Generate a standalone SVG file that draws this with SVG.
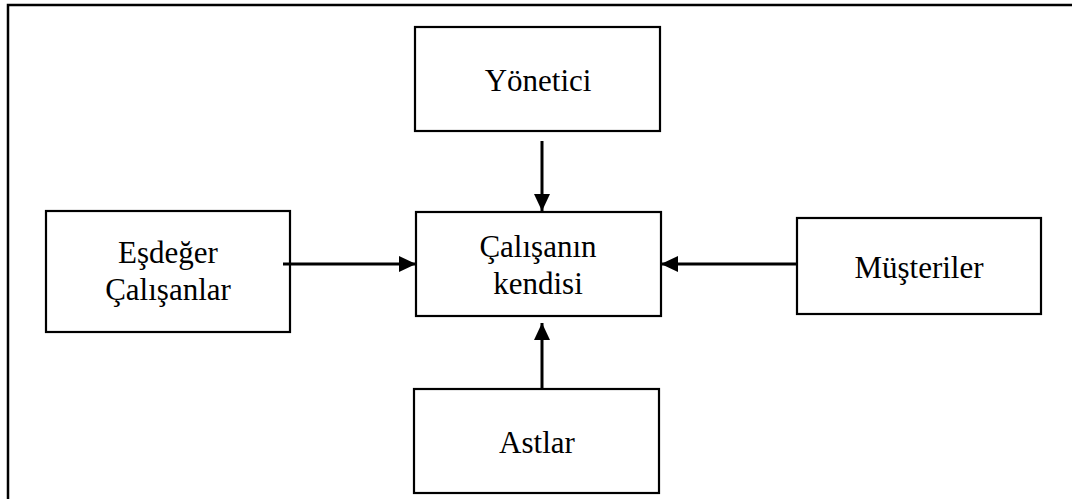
<svg xmlns="http://www.w3.org/2000/svg" width="1072" height="499" viewBox="0 0 1072 499">
<style>
.box{fill:#fff;stroke:#000;stroke-width:2.2}
.lbl{font-family:'Liberation Serif','Times New Roman','DejaVu Serif',serif;font-size:31px;fill:#000;text-anchor:middle}
.con{stroke:#000;stroke-width:3;fill:none}
.frame{stroke:#000;stroke-width:2.5;fill:none}
</style>
<defs>
<marker id="ah" viewBox="0 0 17 16" refX="17" refY="8" markerWidth="17" markerHeight="16" markerUnits="userSpaceOnUse" orient="auto">
<path d="M0,0 L17,8 L0,16 Z" fill="#000"/>
</marker>
</defs>
<path class="frame" d="M8,499 V5 H1072"/>
<g id="yonetici">
<rect class="box" x="415" y="27" width="245" height="104"/>
<text class="lbl" font-family="Liberation Serif, serif" x="538" y="91">Yönetici</text>
</g>
<g id="calisanin-kendisi">
<rect class="box" x="416" y="212" width="245" height="104"/>
<text class="lbl" font-family="Liberation Serif, serif" x="538" y="257">Çalışanın</text>
<text class="lbl" font-family="Liberation Serif, serif" x="538" y="294">kendisi</text>
</g>
<g id="esdeger-calisanlar">
<rect class="box" x="46" y="211" width="244" height="121"/>
<text class="lbl" font-family="Liberation Serif, serif" x="168" y="263">Eşdeğer</text>
<text class="lbl" font-family="Liberation Serif, serif" x="168" y="300">Çalışanlar</text>
</g>
<g id="musteriler">
<rect class="box" x="797" y="218" width="244" height="96"/>
<text class="lbl" font-family="Liberation Serif, serif" x="919" y="278">Müşteriler</text>
</g>
<g id="astlar">
<rect class="box" x="414" y="389" width="245" height="104"/>
<text class="lbl" font-family="Liberation Serif, serif" x="537" y="453">Astlar</text>
</g>
<g id="connectors">
<line class="con" x1="542" y1="141" x2="542" y2="211" marker-end="url(#ah)"/>
<line class="con" x1="283" y1="264" x2="416" y2="264" marker-end="url(#ah)"/>
<line class="con" x1="797" y1="264" x2="661" y2="264" marker-end="url(#ah)"/>
<line class="con" x1="542" y1="389" x2="542" y2="323" marker-end="url(#ah)"/>
</g>
</svg>
